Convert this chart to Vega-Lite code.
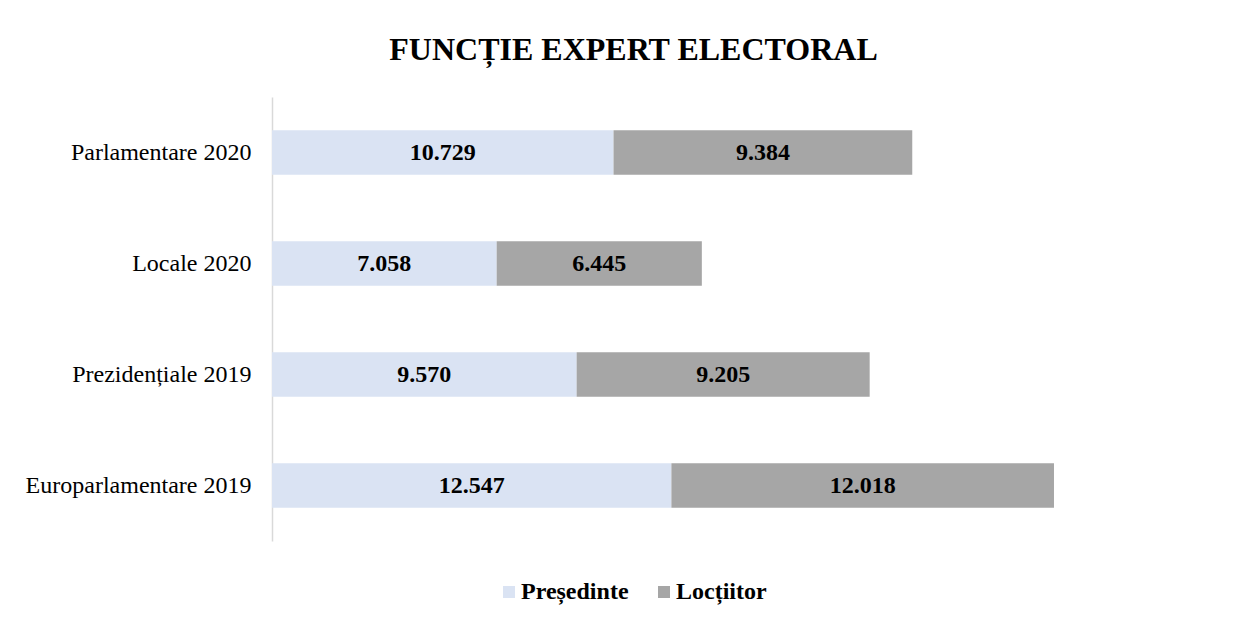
{
  "$schema": "https://vega.github.io/schema/vega-lite/v6.json",
  "width": 955,
  "height": 444,
  "autosize": "none",
  "padding": {"left": 272, "top": 97, "right": 19, "bottom": 82},
  "background": "white",
  "title": {
    "text": "FUNCȚIE EXPERT ELECTORAL",
    "font": "Liberation Serif",
    "fontSize": 32,
    "fontWeight": "bold",
    "color": "black",
    "anchor": "middle",
    "offset": 30,
    "dx": -116
  },
  "data": {
    "values": [
      {"alegeri": "Parlamentare 2020", "serie": "Președinte", "value": 10729},
      {"alegeri": "Parlamentare 2020", "serie": "Locțiitor", "value": 9384},
      {"alegeri": "Locale 2020", "serie": "Președinte", "value": 7058},
      {"alegeri": "Locale 2020", "serie": "Locțiitor", "value": 6445},
      {"alegeri": "Prezidențiale 2019", "serie": "Președinte", "value": 9570},
      {"alegeri": "Prezidențiale 2019", "serie": "Locțiitor", "value": 9205},
      {"alegeri": "Europarlamentare 2019", "serie": "Președinte", "value": 12547},
      {"alegeri": "Europarlamentare 2019", "serie": "Locțiitor", "value": 12018}
    ]
  },
  "transform": [
    {"stack": "value", "groupby": ["alegeri"], "sort": [{"field": "serie", "order": "descending"}], "as": ["x0", "x1"]},
    {"calculate": "(datum.x0 + datum.x1) / 2", "as": "xm"}
  ],
  "encoding": {
    "y": {
      "field": "alegeri",
      "type": "nominal",
      "sort": ["Parlamentare 2020", "Locale 2020", "Prezidențiale 2019", "Europarlamentare 2019"],
      "scale": {"paddingInner": 0.6, "paddingOuter": 0.3},
      "axis": {
        "title": null,
        "ticks": false,
        "domainColor": "#d9d9d9",
        "domainWidth": 1.5,
        "labelFont": "Liberation Serif",
        "labelFontSize": 24,
        "labelColor": "black",
        "labelPadding": 21,
        "labelLimit": 400
      }
    }
  },
  "layer": [
    {
      "mark": {"type": "bar"},
      "encoding": {
        "x": {"field": "x0", "type": "quantitative", "scale": {"domain": [0, 30000]}, "axis": null},
        "x2": {"field": "x1"},
        "color": {
          "field": "serie",
          "type": "nominal",
          "scale": {"domain": ["Președinte", "Locțiitor"], "range": ["#dae3f3", "#a6a6a6"]},
          "legend": {
            "title": null,
            "orient": "none",
            "direction": "horizontal",
            "legendX": 225,
            "legendY": 483,
            "symbolType": "square",
            "symbolSize": 144,
            "symbolStrokeWidth": 0,
            "labelFont": "Liberation Serif",
            "labelFontSize": 24,
            "labelFontWeight": "bold",
            "labelColor": "black",
            "labelOffset": 0,
            "columnPadding": 23
          }
        }
      }
    },
    {
      "mark": {"type": "text", "font": "Liberation Serif", "fontSize": 24, "fontWeight": "bold", "color": "black"},
      "encoding": {
        "x": {"field": "xm", "type": "quantitative"},
        "text": {"field": "value", "type": "quantitative", "format": ",d"}
      }
    }
  ],
  "config": {
    "locale": {"number": {"decimal": ",", "thousands": ".", "grouping": [3], "currency": ["", " lei"]}},
    "view": {"stroke": null}
  }
}
